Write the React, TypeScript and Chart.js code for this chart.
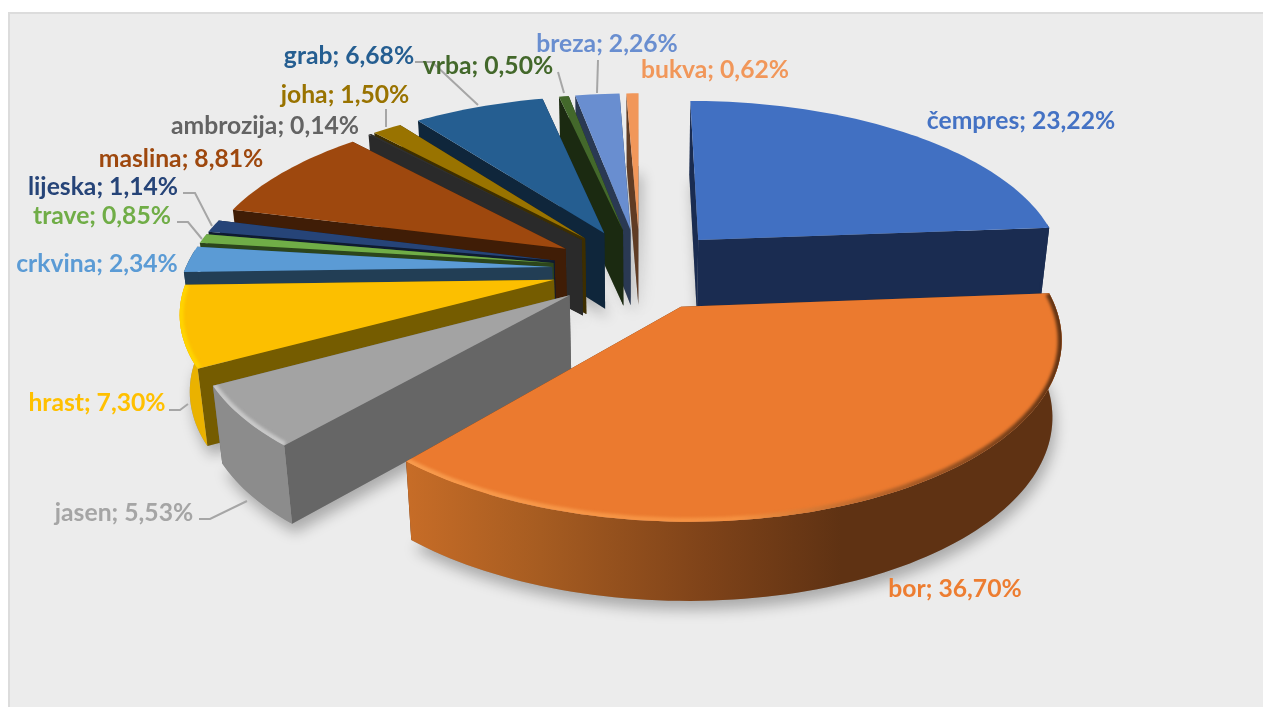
import React, { useEffect, useRef } from "react";
import { Chart, registerables } from "chart.js";

Chart.register(...registerables);

const categories = ["čempres", "bor", "jasen", "hrast", "crkvina", "trave", "lijeska", "maslina", "ambrozija", "joha", "grab", "vrba", "breza", "bukva"];
const shares = [23.22, 36.7, 5.53, 7.3, 2.34, 0.85, 1.14, 8.81, 0.14, 1.5, 6.68, 0.5, 2.26, 0.62];
const topColors = ["#4170c2", "#eb7a2f", "#a3a3a3", "#fcbf00", "#5b9bd5", "#70ad47", "#264478", "#9e480e", "#303030", "#997300", "#255e91", "#43682b", "#698ed0", "#f1975a"];
const wallColors = ["#1a2c51", "#5f3213", "#666666", "#755c00", "#223e55", "#2c451c", "#0f1b30", "#401d06", "#2a2a2a", "#3d2e00", "#0f263b", "#1b2a11", "#2a3953", "#603c24"];
const textColors = ["#4472c4", "#ed7d31", "#a5a5a5", "#ffc000", "#5b9bd5", "#70ad47", "#264478", "#9e480e", "#636363", "#997300", "#255e91", "#43682b", "#698ed0", "#f1975a"];
const sliceScale = [1, 0.985, 0.98, 0.99, 1, 1, 1, 1, 1, 1, 1, 1, 1, 1];

// label centre positions
const labelX = [1021, 955, 124, 97, 97, 102, 103, 181, 265, 345, 349, 488, 607, 715];
const labelY = [121, 589, 513, 403, 264, 216, 187, 159, 126, 95, 56, 66, 44, 70];
const leaders: (number[][] | null)[] = [
  null, null,
  [[199, 519], [210, 519], [247, 501]],
  [[169, 410], [180, 410], [188, 404]],
  null,
  [[177, 222], [188, 222], [202, 239]],
  [[183, 193], [195, 193], [212, 226]],
  null, null,
  [[386, 109], [386, 127]],
  [[415, 62], [432, 62], [478, 105]],
  [[558, 72], [564, 93]],
  [[598, 60], [597, 93]],
  null,
];

const CX = 640, CY = 269, RX = 367, RY = 170, K = 0.161, EXPLODE = 0.24, HEIGHT = 76;

function proj(u: number, v: number, z = 0): [number, number] {
  const s = 1 / (1 - K * v);
  const x = RX * u * s * (1 - 0.022 * z);
  const y = RY * v * s + HEIGHT * z * (1 + 0.035 * v);
  return [CX + x, CY + y];
}

function path(ctx: CanvasRenderingContext2D, pts: [number, number][]) {
  ctx.beginPath();
  pts.forEach((p, i) => (i ? ctx.lineTo(p[0], p[1]) : ctx.moveTo(p[0], p[1])));
  ctx.closePath();
}

const pie3d = {
  id: "pie3d",
  beforeDraw(chart: any) {
    const { ctx, width, height } = chart;
    ctx.save();
    ctx.fillStyle = "#ffffff";
    ctx.fillRect(0, 0, width, height);
    ctx.fillStyle = "#ececec";
    ctx.fillRect(8, 12, width - 8, height - 12);
    ctx.strokeStyle = "#dcdcdc";
    ctx.lineWidth = 2;
    ctx.strokeRect(9, 13, width, height);
    ctx.restore();
  },
  beforeDatasetsDraw(chart: any) {
    const { ctx } = chart;
    const arcs = chart.getDatasetMeta(0).data as any[];
    const slices = arcs.map((arc, i) => {
      const mid = (arc.startAngle + arc.endAngle) / 2;
      const ou = EXPLODE * Math.cos(mid), ov = EXPLODE * Math.sin(mid);
      const n = Math.max(2, Math.ceil((arc.endAngle - arc.startAngle) * 40));
      const rim: [number, number][] = [];
      for (let j = 0; j <= n; j++) {
        const a = arc.startAngle + ((arc.endAngle - arc.startAngle) * j) / n;
        rim.push([ou + sliceScale[i] * Math.cos(a), ov + sliceScale[i] * Math.sin(a)]);
      }
      return { i, arc, mid, ou, ov, rim };
    });

    // floor shadows
    ctx.save();
    ctx.shadowColor = "rgba(0,0,0,0.28)";
    ctx.shadowBlur = 14;
    ctx.shadowOffsetY = 9;
    ctx.shadowOffsetX = 3;
    ctx.fillStyle = "#999";
    slices.forEach((s) => {
      path(ctx, [proj(s.ou, s.ov, 1), ...s.rim.map((p) => proj(p[0], p[1], 1))]);
      ctx.fill();
    });
    ctx.restore();

    const order = [...slices].sort((a, b) => Math.sin(a.mid) - Math.sin(b.mid));
    order.forEach((s) => {
      const { i, arc, ou, ov, rim } = s;
      const apexT = proj(ou, ov, 0), apexB = proj(ou, ov, 1);
      const first = rim[0], last = rim[rim.length - 1];
      const walls = [
        { pts: [apexT, proj(first[0], first[1], 0), proj(first[0], first[1], 1), apexB] as [number, number][], nv: -Math.cos(arc.startAngle) },
        { pts: [apexT, proj(last[0], last[1], 0), proj(last[0], last[1], 1), apexB] as [number, number][], nv: Math.cos(arc.endAngle) },
      ].sort((a, b) => a.nv - b.nv);
      walls.forEach((w) => {
        ctx.fillStyle = wallColors[i];
        path(ctx, w.pts);
        ctx.fill();
      });

      // outer rim
      const front = rim.filter((p) => p[1] - ov > -0.12);
      if (front.length > 1) {
        const band: [number, number][] = [...front.map((p) => proj(p[0], p[1], 0)), ...[...front].reverse().map((p) => proj(p[0], p[1], 1))];
        let fill: any = wallColors[i];
        if (i === 1) {
          const g = ctx.createLinearGradient(410, 0, 1063, 0);
          g.addColorStop(0, "#c66c27");
          g.addColorStop(0.2, "#a65c21");
          g.addColorStop(0.45, "#7f4319");
          g.addColorStop(0.66, "#5f3213");
          g.addColorStop(1, "#5f3213");
          fill = g;
        } else if (i === 2) {
          fill = "#8c8c8c";
        } else if (i === 3) {
          fill = "#eab200";
        }
        ctx.fillStyle = fill;
        path(ctx, band);
        ctx.fill();
      }

      // top face
      const top: [number, number][] = [apexT, ...rim.map((p) => proj(p[0], p[1], 0))];
      ctx.fillStyle = topColors[i];
      path(ctx, top);
      ctx.fill();

      // bevel along the outer edge
      if (i >= 1 && i <= 3) {
        ctx.save();
        path(ctx, [...top]);
        ctx.clip();
        ctx.beginPath();
        rim.forEach((p, j) => {
          const q = proj(p[0], p[1], 0);
          j ? ctx.lineTo(q[0], q[1]) : ctx.moveTo(q[0], q[1]);
        });
        let stroke: any = "#c8c8c8";
        if (i === 1) {
          const g = ctx.createLinearGradient(410, 0, 1063, 0);
          g.addColorStop(0, "#f79a4c");
          g.addColorStop(0.5, "#f59141");
          g.addColorStop(0.72, "#b8642a");
          g.addColorStop(1, "#5f3213");
          stroke = g;
        } else if (i === 3) {
          stroke = "#ffd400";
        }
        ctx.strokeStyle = stroke;
        ctx.lineWidth = 8;
        ctx.filter = "blur(1.5px)";
        ctx.stroke();
        ctx.restore();
      }
    });
    return false;
  },
  afterDraw(chart: any) {
    const { ctx } = chart;
    ctx.save();
    ctx.strokeStyle = "#a6a6a6";
    ctx.lineWidth = 2;
    leaders.forEach((pts) => {
      if (!pts) return;
      ctx.beginPath();
      pts.forEach((p, j) => (j ? ctx.lineTo(p[0], p[1]) : ctx.moveTo(p[0], p[1])));
      ctx.stroke();
    });
    ctx.font = "bold 24.7px Lato";
    ctx.textAlign = "center";
    ctx.textBaseline = "middle";
    categories.forEach((name, i) => {
      ctx.fillStyle = textColors[i];
      ctx.fillText(`${name}; ${shares[i].toFixed(2).replace(".", ",")}%`, labelX[i], labelY[i]);
    });
    ctx.restore();
  },
};

export default function App() {
  const ref = useRef<HTMLCanvasElement>(null);
  useEffect(() => {
    const chart = new Chart(ref.current!, {
      type: "pie",
      data: {
        labels: categories,
        datasets: [{ data: shares, backgroundColor: topColors }],
      },
      options: {
        responsive: false,
        animation: false,
        rotation: 0,
        plugins: { legend: { display: false }, tooltip: { enabled: false } },
      },
      plugins: [pie3d],
    } as any);
    return () => chart.destroy();
  }, []);
  return (
    <canvas
      ref={ref}
      width={1263}
      height={707}
      style={{ position: "fixed", left: 0, top: 0, width: 1263, height: 707, filter: "blur(0.4px)" }}
    />
  );
}
